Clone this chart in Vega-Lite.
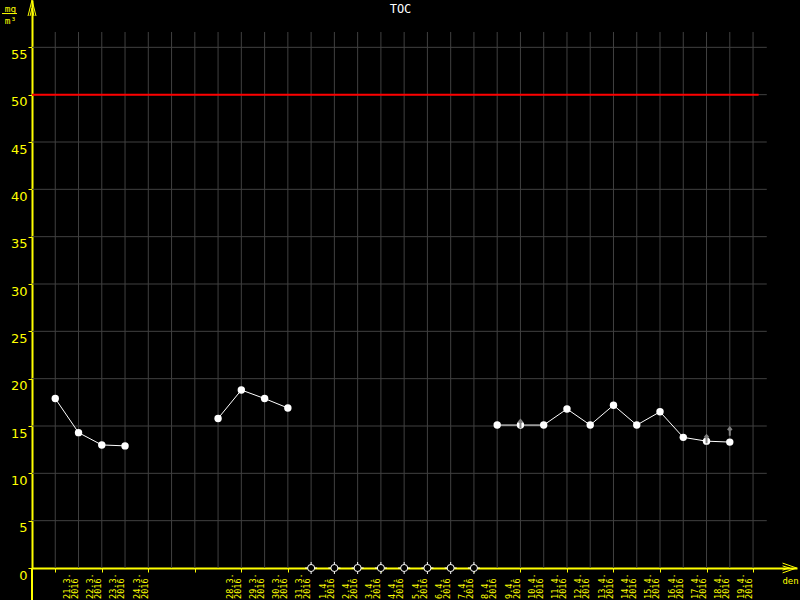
{
  "$schema": "https://vega.github.io/schema/vega-lite/v6.json",
  "width": 765,
  "height": 568,
  "autosize": "none",
  "padding": {"left": 32, "top": 0, "right": 3, "bottom": 32},
  "background": "black",
  "title": {"text": "TOC", "color": "white", "font": "DejaVu Sans Mono", "fontSize": 12, "fontWeight": "normal", "anchor": "middle", "dx": -14, "offset": 0, "baseline": "top", "dy": 18},
  "config": {"view": {"stroke": null}},
  "datasets": {
    "days": [
      {"date": "2016-03-21T00:00:00"}, {"date": "2016-03-22T00:00:00"}, {"date": "2016-03-23T00:00:00"}, {"date": "2016-03-24T00:00:00"},
      {"date": "2016-03-25T00:00:00"}, {"date": "2016-03-26T00:00:00"}, {"date": "2016-03-27T00:00:00"}, {"date": "2016-03-28T00:00:00"},
      {"date": "2016-03-29T00:00:00"}, {"date": "2016-03-30T00:00:00"}, {"date": "2016-03-31T00:00:00"}, {"date": "2016-04-01T00:00:00"},
      {"date": "2016-04-02T00:00:00"}, {"date": "2016-04-03T00:00:00"}, {"date": "2016-04-04T00:00:00"}, {"date": "2016-04-05T00:00:00"},
      {"date": "2016-04-06T00:00:00"}, {"date": "2016-04-07T00:00:00"}, {"date": "2016-04-08T00:00:00"}, {"date": "2016-04-09T00:00:00"},
      {"date": "2016-04-10T00:00:00"}, {"date": "2016-04-11T00:00:00"}, {"date": "2016-04-12T00:00:00"}, {"date": "2016-04-13T00:00:00"},
      {"date": "2016-04-14T00:00:00"}, {"date": "2016-04-15T00:00:00"}, {"date": "2016-04-16T00:00:00"}, {"date": "2016-04-17T00:00:00"},
      {"date": "2016-04-18T00:00:00"}, {"date": "2016-04-19T00:00:00"}, {"date": "2016-04-20T00:00:00"}
    ],
    "labels": [
      {"date": "2016-03-21T00:00:00", "day": "21.3.", "year": "2016"},
      {"date": "2016-03-22T00:00:00", "day": "22.3.", "year": "2016"},
      {"date": "2016-03-23T00:00:00", "day": "23.3.", "year": "2016"},
      {"date": "2016-03-24T00:00:00", "day": "24.3.", "year": "2016"},
      {"date": "2016-03-28T00:00:00", "day": "28.3.", "year": "2016"},
      {"date": "2016-03-29T00:00:00", "day": "29.3.", "year": "2016"},
      {"date": "2016-03-30T00:00:00", "day": "30.3.", "year": "2016"},
      {"date": "2016-03-31T00:00:00", "day": "31.3.", "year": "2016"},
      {"date": "2016-04-01T00:00:00", "day": "1.4.", "year": "2016"},
      {"date": "2016-04-02T00:00:00", "day": "2.4.", "year": "2016"},
      {"date": "2016-04-03T00:00:00", "day": "3.4.", "year": "2016"},
      {"date": "2016-04-04T00:00:00", "day": "4.4.", "year": "2016"},
      {"date": "2016-04-05T00:00:00", "day": "5.4.", "year": "2016"},
      {"date": "2016-04-06T00:00:00", "day": "6.4.", "year": "2016"},
      {"date": "2016-04-07T00:00:00", "day": "7.4.", "year": "2016"},
      {"date": "2016-04-08T00:00:00", "day": "8.4.", "year": "2016"},
      {"date": "2016-04-09T00:00:00", "day": "9.4.", "year": "2016"},
      {"date": "2016-04-10T00:00:00", "day": "10.4.", "year": "2016"},
      {"date": "2016-04-11T00:00:00", "day": "11.4.", "year": "2016"},
      {"date": "2016-04-12T00:00:00", "day": "12.4.", "year": "2016"},
      {"date": "2016-04-13T00:00:00", "day": "13.4.", "year": "2016"},
      {"date": "2016-04-14T00:00:00", "day": "14.4.", "year": "2016"},
      {"date": "2016-04-15T00:00:00", "day": "15.4.", "year": "2016"},
      {"date": "2016-04-16T00:00:00", "day": "16.4.", "year": "2016"},
      {"date": "2016-04-17T00:00:00", "day": "17.4.", "year": "2016"},
      {"date": "2016-04-18T00:00:00", "day": "18.4.", "year": "2016"},
      {"date": "2016-04-19T00:00:00", "day": "19.4.", "year": "2016"}
    ],
    "levels": [{"v": 5}, {"v": 10}, {"v": 15}, {"v": 20}, {"v": 25}, {"v": 30}, {"v": 35}, {"v": 40}, {"v": 45}, {"v": 50}, {"v": 55}],
    "toc": [
      {"date": "2016-03-21T00:00:00", "toc": 17.9, "seg": "A"},
      {"date": "2016-03-22T00:00:00", "toc": 14.3, "seg": "A"},
      {"date": "2016-03-23T00:00:00", "toc": 13.0, "seg": "A"},
      {"date": "2016-03-24T00:00:00", "toc": 12.9, "seg": "A"},
      {"date": "2016-03-28T00:00:00", "toc": 15.8, "seg": "B"},
      {"date": "2016-03-29T00:00:00", "toc": 18.8, "seg": "B"},
      {"date": "2016-03-30T00:00:00", "toc": 17.9, "seg": "B"},
      {"date": "2016-03-31T00:00:00", "toc": 16.9, "seg": "B"},
      {"date": "2016-04-09T00:00:00", "toc": 15.1, "seg": "C"},
      {"date": "2016-04-10T00:00:00", "toc": 15.1, "seg": "C"},
      {"date": "2016-04-11T00:00:00", "toc": 15.1, "seg": "C"},
      {"date": "2016-04-12T00:00:00", "toc": 16.8, "seg": "C"},
      {"date": "2016-04-13T00:00:00", "toc": 15.1, "seg": "C"},
      {"date": "2016-04-14T00:00:00", "toc": 17.2, "seg": "C"},
      {"date": "2016-04-15T00:00:00", "toc": 15.1, "seg": "C"},
      {"date": "2016-04-16T00:00:00", "toc": 16.5, "seg": "C"},
      {"date": "2016-04-17T00:00:00", "toc": 13.8, "seg": "C"},
      {"date": "2016-04-18T00:00:00", "toc": 13.4, "seg": "C"},
      {"date": "2016-04-19T00:00:00", "toc": 13.3, "seg": "C"}
    ],
    "missing": [
      {"date": "2016-04-01T00:00:00"}, {"date": "2016-04-02T00:00:00"}, {"date": "2016-04-03T00:00:00"}, {"date": "2016-04-04T00:00:00"},
      {"date": "2016-04-05T00:00:00"}, {"date": "2016-04-06T00:00:00"}, {"date": "2016-04-07T00:00:00"}, {"date": "2016-04-08T00:00:00"}
    ],
    "flags": [
      {"date": "2016-04-10T00:00:00", "val": 15.2},
      {"date": "2016-04-18T00:00:00", "val": 13.6},
      {"date": "2016-04-19T00:00:00", "val": 14.4}
    ]
  },
  "layer": [
    {
      "data": {"name": "days"},
      "mark": {"type": "rule", "color": "#404040", "strokeWidth": 1},
      "encoding": {
        "x": {
          "field": "date", "type": "temporal",
          "scale": {"domain": [{"year": 2016, "month": 3, "date": 20}, {"year": 2016, "month": 4, "date": 21, "hours": 21, "minutes": 21}]},
          "axis": {
            "title": "den", "titleColor": "#ffff00", "titleFont": "DejaVu Sans Mono", "titleFontSize": 9, "titleFontWeight": "normal",
            "titleX": 758, "titleY": 12, "titleAlign": "center", "titleBaseline": "middle", "titleAngle": 0,
            "grid": false, "labels": false, "domainColor": "#ffff00", "domainWidth": 2, "tickColor": "#ffff00", "tickSize": 4, "tickWidth": 1,
            "values": [
              {"year": 2016, "month": 3, "date": 21}, {"year": 2016, "month": 3, "date": 22}, {"year": 2016, "month": 3, "date": 23},
              {"year": 2016, "month": 3, "date": 24}, {"year": 2016, "month": 3, "date": 25}, {"year": 2016, "month": 3, "date": 26},
              {"year": 2016, "month": 3, "date": 27}, {"year": 2016, "month": 3, "date": 28}, {"year": 2016, "month": 3, "date": 29},
              {"year": 2016, "month": 3, "date": 30}, {"year": 2016, "month": 3, "date": 31}, {"year": 2016, "month": 4, "date": 1},
              {"year": 2016, "month": 4, "date": 2}, {"year": 2016, "month": 4, "date": 3}, {"year": 2016, "month": 4, "date": 4},
              {"year": 2016, "month": 4, "date": 5}, {"year": 2016, "month": 4, "date": 6}, {"year": 2016, "month": 4, "date": 7},
              {"year": 2016, "month": 4, "date": 8}, {"year": 2016, "month": 4, "date": 9}, {"year": 2016, "month": 4, "date": 10},
              {"year": 2016, "month": 4, "date": 11}, {"year": 2016, "month": 4, "date": 12}, {"year": 2016, "month": 4, "date": 13},
              {"year": 2016, "month": 4, "date": 14}, {"year": 2016, "month": 4, "date": 15}, {"year": 2016, "month": 4, "date": 16},
              {"year": 2016, "month": 4, "date": 17}, {"year": 2016, "month": 4, "date": 18}, {"year": 2016, "month": 4, "date": 19},
              {"year": 2016, "month": 4, "date": 20}
            ]
          }
        },
        "y": {"datum": 0, "type": "quantitative",
          "scale": {"domain": [0, 60], "nice": false, "zero": false},
          "axis": {
            "title": ["mg", "m³"], "titleColor": "#ffff00", "titleFont": "DejaVu Sans Mono", "titleFontSize": 9.5, "titleFontWeight": "normal",
            "titleAngle": 0, "titleX": -22, "titleY": 3, "titleAlign": "center", "titleBaseline": "top", "titleLineHeight": 12,
            "grid": false, "values": [0, 5, 10, 15, 20, 25, 30, 35, 40, 45, 50, 55],
            "domainColor": "#ffff00", "domainWidth": 2, "tickColor": "#ffff00", "tickSize": 4, "tickWidth": 1,
            "labelColor": "#ffff00", "labelFont": "DejaVu Sans", "labelFontSize": 13, "labelBaseline": "top", "labelPadding": 1, "labelOffset": 1,
            "labelFlush": false, "labelOverlap": false
          }
        },
        "y2": {"datum": 56.62}
      }
    },
    {
      "data": {"name": "levels"},
      "mark": {"type": "rule", "color": "#404040", "strokeWidth": 1},
      "encoding": {
        "y": {"field": "v", "type": "quantitative"},
        "x": {"datum": {"year": 2016, "month": 3, "date": 20}, "type": "temporal"},
        "x2": {"datum": {"year": 2016, "month": 4, "date": 20, "hours": 14, "minutes": 10}}
      }
    },
    {
      "data": {"values": [{"limit": 50}]},
      "mark": {"type": "rule", "color": "#ff0000", "strokeWidth": 2},
      "encoding": {
        "y": {"field": "limit", "type": "quantitative"},
        "x": {"datum": {"year": 2016, "month": 3, "date": 20}, "type": "temporal"},
        "x2": {"datum": {"year": 2016, "month": 4, "date": 20, "hours": 5, "minutes": 46}}
      }
    },
    {
      "data": {"name": "toc"},
      "mark": {"type": "line", "color": "white", "strokeWidth": 1},
      "encoding": {
        "x": {"field": "date", "type": "temporal"},
        "y": {"field": "toc", "type": "quantitative"},
        "detail": {"field": "seg"}
      }
    },
    {
      "data": {"name": "toc"},
      "mark": {"type": "point", "shape": "circle", "filled": true, "color": "white", "size": 55, "opacity": 1},
      "encoding": {
        "x": {"field": "date", "type": "temporal"},
        "y": {"field": "toc", "type": "quantitative"}
      }
    },
    {
      "data": {"name": "flags"},
      "mark": {"type": "point", "shape": "M0,-1L0,1M-0.5,-0.4L0,-1L0.5,-0.4", "filled": false, "color": "#808080", "strokeWidth": 2, "size": 64, "opacity": 1},
      "encoding": {
        "x": {"field": "date", "type": "temporal"},
        "y": {"field": "val", "type": "quantitative"}
      }
    },
    {
      "data": {"name": "missing"},
      "mark": {"type": "point", "shape": "M-1,0H1M0,-1V1", "filled": false, "color": "white", "strokeWidth": 1, "size": 144, "opacity": 1},
      "encoding": {
        "x": {"field": "date", "type": "temporal"},
        "y": {"datum": 0, "type": "quantitative"}
      }
    },
    {
      "data": {"name": "missing"},
      "mark": {"type": "point", "shape": "circle", "filled": false, "fill": "black", "fillOpacity": 1, "stroke": "white", "strokeWidth": 1, "size": 50, "opacity": 1},
      "encoding": {
        "x": {"field": "date", "type": "temporal"},
        "y": {"datum": 0, "type": "quantitative"}
      }
    },
    {
      "data": {"name": "labels"},
      "mark": {"type": "text", "angle": 270, "align": "left", "baseline": "middle", "font": "DejaVu Sans Mono", "fontSize": 8.5, "color": "#ffff00", "xOffset": 11.5},
      "encoding": {
        "x": {"field": "date", "type": "temporal"},
        "y": {"datum": -3.27, "type": "quantitative"},
        "text": {"field": "day"}
      }
    },
    {
      "data": {"name": "labels"},
      "mark": {"type": "text", "angle": 270, "align": "left", "baseline": "middle", "font": "DejaVu Sans Mono", "fontSize": 8.5, "color": "#ffff00", "xOffset": 19.5},
      "encoding": {
        "x": {"field": "date", "type": "temporal"},
        "y": {"datum": -3.27, "type": "quantitative"},
        "text": {"field": "year"}
      }
    },
    {
      "data": {"values": [{"a": 1}]},
      "mark": {"type": "rule", "color": "#ffff00", "strokeWidth": 1},
      "encoding": {
        "x": {"datum": {"year": 2016, "month": 3, "date": 18, "hours": 17, "minutes": 4}, "type": "temporal"},
        "x2": {"datum": {"year": 2016, "month": 3, "date": 19, "hours": 8, "minutes": 31}},
        "y": {"datum": 58.57, "type": "quantitative"}
      }
    },
    {
      "data": {"values": [{"a": 1}]},
      "mark": {"type": "rule", "color": "#ffff00", "strokeWidth": 2},
      "encoding": {
        "x": {"datum": {"year": 2016, "month": 3, "date": 20}, "type": "temporal"},
        "y": {"datum": 0, "type": "quantitative"},
        "y2": {"datum": -3.4}
      }
    },
    {
      "data": {"values": [{"a": 1}]},
      "mark": {"type": "point", "shape": "M-0.5,1L0,-1L0.5,1M-0.25,1L0,0L0.25,1", "filled": false, "color": "#ffff00", "strokeWidth": 1, "size": 256, "opacity": 1},
      "encoding": {
        "x": {"datum": {"year": 2016, "month": 3, "date": 20}, "type": "temporal"},
        "y": {"datum": 59.15, "type": "quantitative"}
      }
    },
    {
      "data": {"values": [{"a": 1}]},
      "mark": {"type": "point", "shape": "M-1,-0.7L1,0L-1,0.7M-1,-0.3L0,0L-1,0.3", "filled": false, "color": "#ffff00", "strokeWidth": 1, "size": 196, "opacity": 1},
      "encoding": {
        "x": {"datum": {"year": 2016, "month": 4, "date": 21, "hours": 13, "minutes": 41}, "type": "temporal"},
        "y": {"datum": 0, "type": "quantitative"}
      }
    }
  ]
}
